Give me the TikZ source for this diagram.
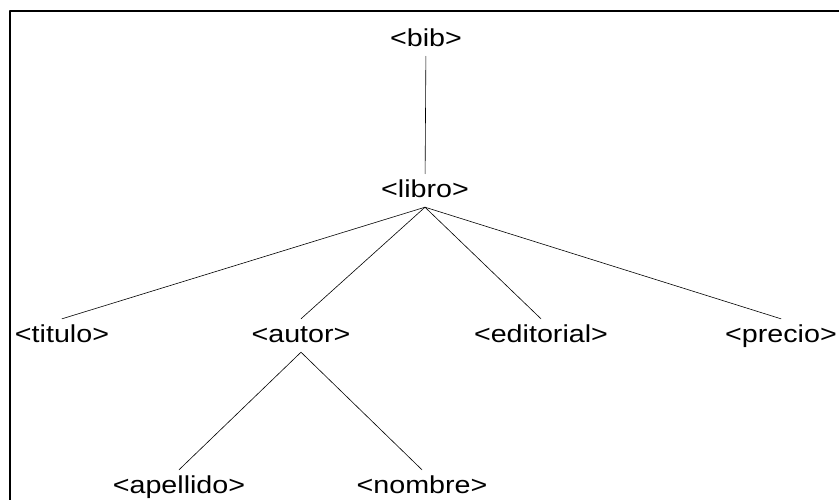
\documentclass[tikz,border=0pt]{standalone}
\usepackage{fontspec}
\setmainfont{Liberation Sans}[FakeStretch=1.17]
\begin{document}
\begin{tikzpicture}[x=1pt, y=-1pt, line join=round, line cap=round,
  font=\fontsize{24.5}{27}\selectfont,
  tag/.style={anchor=base, inner xsep=0pt, inner ysep=5pt, text height=18pt, text depth=5pt}]
 \useasboundingbox (0,0) rectangle (839,499);
 \clip (0,0) rectangle (839,499);
 \draw[line width=2pt] (10,520) -- (10,11) -- (860,11);
 \node[tag] (bib) at (426,46) {<bib>};
 \node[tag] (libro) at (425,197) {<libro>};
 \node[tag] (titulo) at (62,342) {<titulo>};
 \node[tag] (autor) at (301,342) {<autor>};
 \node[tag] (editorial) at (541,342) {<editorial>};
 \node[tag] (precio) at (781,342) {<precio>};
 \node[tag] (apellido) at (179,493) {<apellido>};
 \node[tag] (nombre) at (422,493) {<nombre>};
 \draw[line width=0.6pt] (bib) -- (libro);
 \draw[line width=0.6pt] (libro.south) -- (titulo.north);
 \draw[line width=0.6pt] (libro.south) -- (autor.north);
 \draw[line width=0.6pt] (libro.south) -- (editorial.north);
 \draw[line width=0.6pt] (libro.south) -- (precio.north);
 \draw[line width=0.6pt] (autor.south) -- (apellido.north);
 \draw[line width=0.6pt] (autor.south) -- (nombre.north);
\end{tikzpicture}
\end{document}
